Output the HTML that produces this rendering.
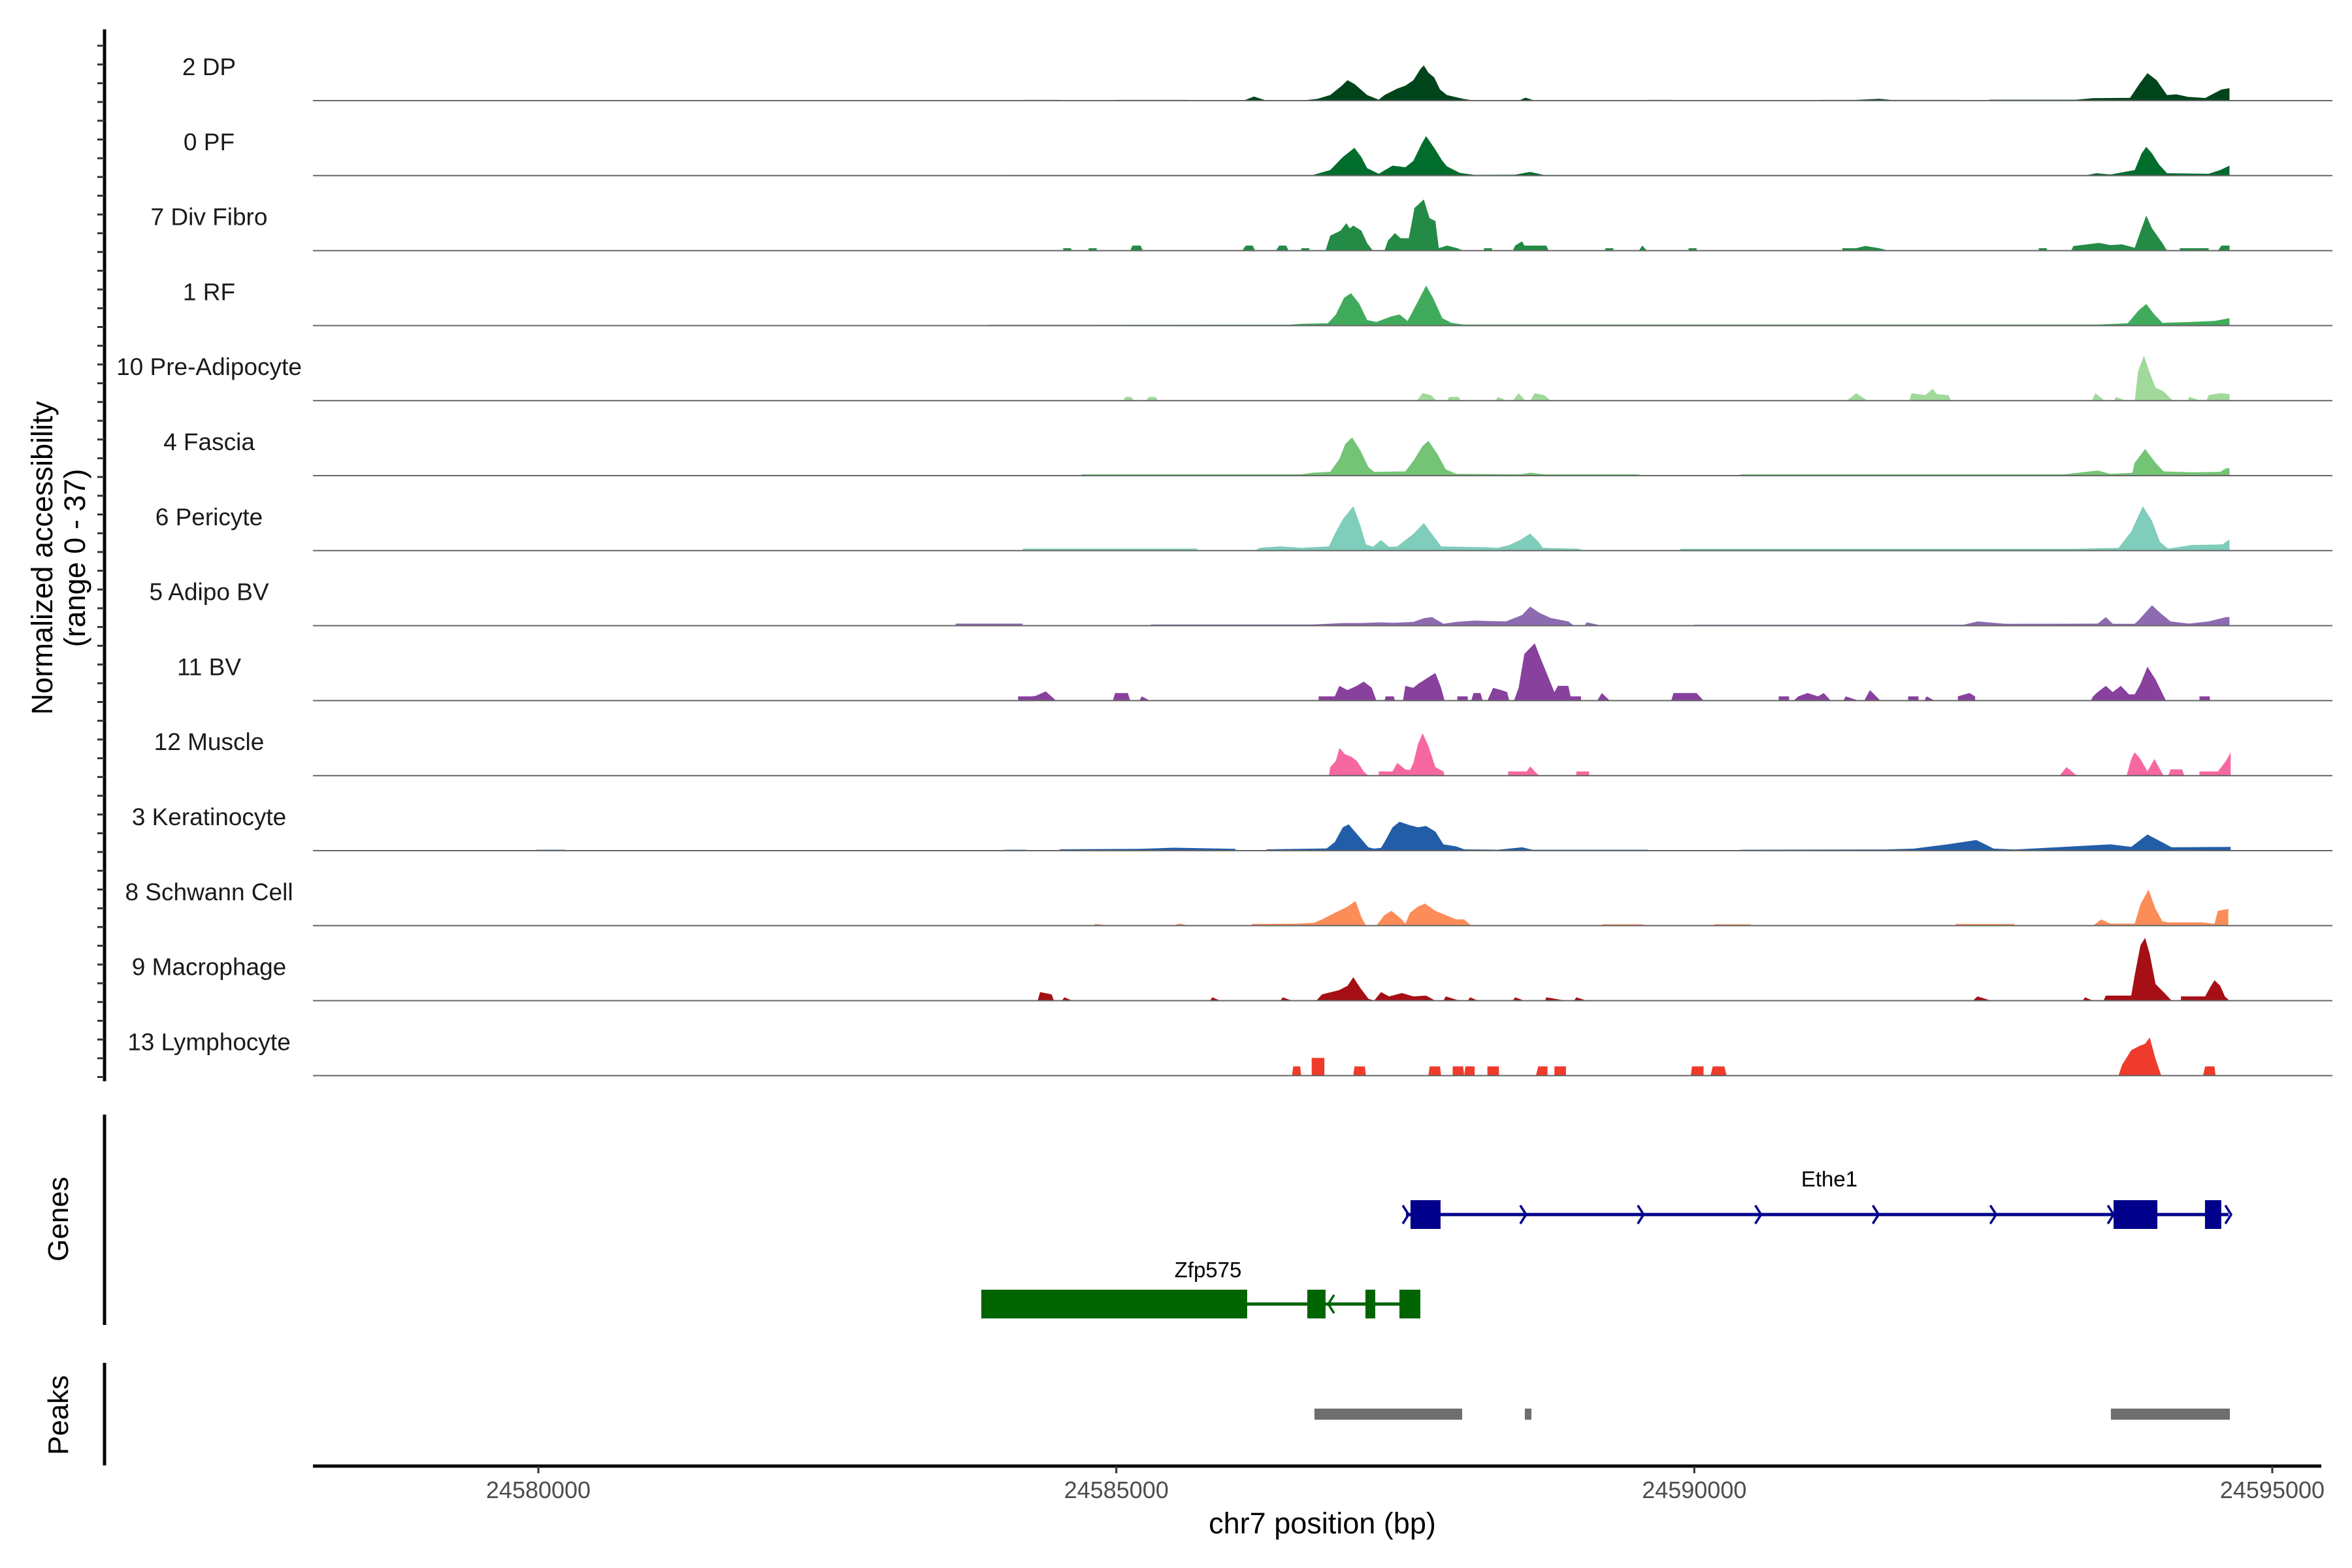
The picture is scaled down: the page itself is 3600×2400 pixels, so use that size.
<!DOCTYPE html>
<html><head><meta charset="utf-8">
<style>
html,body{margin:0;padding:0;background:#fff;}
svg{display:block;font-family:"Liberation Sans",Arial,sans-serif;}
</style></head>
<body>
<svg id="chart" width="3600" height="2400" viewBox="0 0 3600 2400" xmlns="http://www.w3.org/2000/svg">
<rect x="0" y="0" width="3600" height="2400" fill="#fff"/>
<g id="tracks"></g>
<g id="leftaxis"></g>
<g id="genes"></g>
<g id="peaks"></g>
<g id="xaxis"></g>
<text x="0" y="0" transform="translate(80,854) rotate(-90)" text-anchor="middle" font-size="45" fill="#000">Normalized accessibility</text>
<text x="0" y="0" transform="translate(130,854) rotate(-90)" text-anchor="middle" font-size="45" fill="#000">(range 0 - 37)</text>
<text x="0" y="0" transform="translate(104,1866) rotate(-90)" text-anchor="middle" font-size="44" fill="#000">Genes</text>
<text x="0" y="0" transform="translate(104,2166) rotate(-90)" text-anchor="middle" font-size="44" fill="#000">Peaks</text>
<text x="2024" y="2347" text-anchor="middle" font-size="45" fill="#000">chr7 position (bp)</text>
</svg>
<script>
const trackNames = ["2 DP","0 PF","7 Div Fibro","1 RF","10 Pre-Adipocyte","4 Fascia","6 Pericyte","5 Adipo BV","11 BV","12 Muscle","3 Keratinocyte","8 Schwann Cell","9 Macrophage","13 Lymphocyte"];
const xTicks = [24580000, 24585000, 24590000, 24595000];
const yRangeMax = 37;
const sig_DP = [[24584.2,0],[24584.2,0.4],[24584.5,0.4],[24584.5,0],[24585.0,0],[24585.0,0.4],[24585.6,0.4],[24585.6,0],[24586.10,0],[24586.19,2.2],[24586.30,0],[24586.60,0],[24586.74,1],[24586.85,3],[24586.95,8],[24587.00,11],[24587.06,9],[24587.17,3],[24587.27,0.5],[24587.32,3],[24587.43,6.5],[24587.50,8],[24587.57,11],[24587.63,17],[24587.66,19],[24587.70,15],[24587.75,12.5],[24587.80,6],[24587.86,3],[24588.00,1],[24588.10,0],[24588.48,0],[24588.54,1.6],[24588.62,0],[24589.6,0],[24589.6,0.4],[24589.8,0.4],[24589.8,0],[24591.1,0],[24591.1,0.4],[24591.4,0.4],[24591.6,1],[24591.7,0.4],[24592.3,0.4],[24592.3,0],[24592.55,0],[24592.55,0.5],[24593.3,0.5],[24593.45,1.3],[24593.77,1.5],[24593.85,9],[24593.92,14.8],[24594.00,11],[24594.09,3],[24594.17,3.4],[24594.27,2],[24594.42,1.4],[24594.56,6],[24594.63,6.7],[24594.63,0]];
const sig_PF = [[24584.0,0],[24584.0,0.3],[24586.7,0.3],[24586.85,3],[24586.96,10],[24587.06,15],[24587.12,10],[24587.17,4],[24587.27,1],[24587.39,5.4],[24587.50,4.5],[24587.57,8],[24587.64,17],[24587.68,21.3],[24587.75,15],[24587.82,8],[24587.86,5],[24587.97,1.5],[24588.1,0.4],[24588.45,0.5],[24588.58,2],[24588.7,0.3],[24593.4,0.3],[24593.48,1.3],[24593.6,0.6],[24593.81,3],[24593.87,12],[24593.91,15.5],[24593.96,12],[24594.02,6],[24594.09,1.3],[24594.45,1],[24594.55,3],[24594.63,5.4],[24594.63,0]];
const sig_DivFibro = [[24584.54,0],[24584.54,1.3],[24584.61,1.3],[24584.61,0],[24584.76,0],[24584.76,1.3],[24584.83,1.3],[24584.83,0],[24585.12,0],[24585.14,2.7],[24585.21,2.7],[24585.23,0],[24586.09,0],[24586.12,2.7],[24586.18,2.7],[24586.20,0],[24586.38,0],[24586.41,2.7],[24586.47,2.7],[24586.49,0],[24586.60,0],[24586.60,1.3],[24586.67,1.3],[24586.67,0],[24586.81,0],[24586.85,8],[24586.94,10.8],[24586.99,14.8],[24587.02,12],[24587.05,13.5],[24587.12,10.8],[24587.17,4],[24587.22,0],[24587.32,0],[24587.35,5.4],[24587.41,9.4],[24587.46,6.7],[24587.53,6.7],[24587.58,23],[24587.66,27.6],[24587.71,17.5],[24587.76,16],[24587.79,1.3],[24587.86,2.7],[24587.95,1.3],[24588.00,0],[24588.18,0],[24588.18,1.3],[24588.25,1.3],[24588.25,0],[24588.43,0],[24588.45,2.7],[24588.51,5],[24588.53,2.7],[24588.72,2.7],[24588.74,0],[24589.23,0],[24589.23,1.3],[24589.30,1.3],[24589.30,0],[24589.52,0],[24589.55,2.7],[24589.59,0],[24589.95,0],[24589.95,1.3],[24590.02,1.3],[24590.02,0],[24591.28,0],[24591.28,1.3],[24591.40,1.3],[24591.48,2.5],[24591.60,1.3],[24591.68,0],[24592.98,0],[24592.98,1.3],[24593.05,1.3],[24593.05,0],[24593.26,0],[24593.28,2.5],[24593.40,3.4],[24593.50,4.2],[24593.60,3],[24593.70,3.4],[24593.81,1.5],[24593.87,12],[24593.91,18.9],[24593.96,12],[24594.05,4],[24594.09,0],[24594.20,0],[24594.20,1.3],[24594.45,1.3],[24594.45,0],[24594.53,0],[24594.56,2.7],[24594.63,2.7],[24594.63,0]];
const sig_RF = [[24583.9,0],[24583.9,0.4],[24586.50,0.5],[24586.60,1],[24586.83,1.3],[24586.90,6],[24586.97,15],[24587.03,17.5],[24587.10,12],[24587.17,3],[24587.25,2],[24587.38,5],[24587.45,6],[24587.52,2.5],[24587.60,12],[24587.68,21.6],[24587.74,15],[24587.82,4],[24587.90,1.5],[24588.0,0.6],[24593.5,0.6],[24593.75,1.3],[24593.84,8],[24593.91,11.7],[24593.98,6],[24594.05,1.5],[24594.30,2],[24594.50,2.5],[24594.63,4],[24594.63,0]];
const sig_PreAdipocyte = [[24585.06,0],[24585.08,2],[24585.13,2],[24585.15,0],[24585.26,0],[24585.28,2],[24585.34,2],[24585.36,0],[24587.60,0],[24587.65,4],[24587.72,3],[24587.77,0],[24587.86,0],[24587.88,2],[24587.96,2],[24587.98,0],[24588.28,0],[24588.30,2],[24588.38,0],[24588.43,0],[24588.48,4],[24588.54,0],[24588.58,0],[24588.62,4],[24588.70,3],[24588.76,0],[24591.32,0],[24591.40,4],[24591.50,0],[24591.86,0],[24591.88,4],[24592.00,3],[24592.06,6.3],[24592.10,3.5],[24592.20,3],[24592.22,0],[24593.44,0],[24593.47,4],[24593.55,0],[24593.63,0],[24593.65,2],[24593.73,0],[24593.81,0],[24593.84,16],[24593.89,24.3],[24593.94,15],[24593.99,7],[24594.06,5],[24594.14,0],[24594.27,0],[24594.28,2],[24594.38,0],[24594.43,0],[24594.45,3],[24594.55,4],[24594.63,3.5],[24594.63,0]];
const sig_Fascia = [[24584.7,0],[24584.7,0.7],[24586.6,0.7],[24586.7,1.6],[24586.85,2],[24586.93,9],[24586.98,17],[24587.04,20.6],[24587.11,13.7],[24587.18,4.6],[24587.23,2],[24587.50,2.3],[24587.57,8],[24587.65,16],[24587.70,18.8],[24587.78,11.4],[24587.85,3.4],[24587.94,1],[24588.5,0.7],[24588.58,1.6],[24588.7,0.7],[24589.5,0.7],[24589.6,0],[24590.4,0],[24590.4,0.7],[24593.2,0.7],[24593.49,2.7],[24593.6,1],[24593.79,1.5],[24593.81,6.9],[24593.90,14.4],[24593.99,6.9],[24594.06,2.3],[24594.30,1.8],[24594.55,2],[24594.60,4],[24594.63,4],[24594.63,0]];
const sig_Pericyte = [[24584.19,0],[24584.19,1.1],[24585.70,1.1],[24585.70,0],[24586.20,0],[24586.24,1.5],[24586.42,2.3],[24586.60,1.5],[24586.84,2.3],[24586.89,9],[24586.96,17],[24587.05,24],[24587.11,13.7],[24587.16,3.4],[24587.22,2],[24587.29,5.7],[24587.36,2],[24587.43,2.3],[24587.57,9],[24587.66,14.9],[24587.73,9],[24587.81,2.3],[24588.22,1.8],[24588.30,1.5],[24588.40,3],[24588.50,6],[24588.58,9.2],[24588.65,5],[24588.69,1.5],[24589.00,1],[24589.05,0],[24589.88,0],[24589.88,1],[24592.77,1],[24593.3,1],[24593.67,1.5],[24593.78,10.3],[24593.88,24],[24593.96,16],[24594.03,4.6],[24594.10,1.1],[24594.30,3],[24594.57,3.4],[24594.62,5.7],[24594.63,5.7],[24594.63,0]];
const sig_AdipoBV = [[24583.61,0],[24583.61,1.1],[24584.19,1.1],[24584.19,0],[24585.3,0],[24585.3,0.6],[24586.7,0.6],[24586.96,1.4],[24587.11,1.4],[24587.29,1.8],[24587.39,1.5],[24587.57,2],[24587.66,4],[24587.73,4.6],[24587.83,1],[24587.94,2],[24588.10,2.7],[24588.22,2.5],[24588.37,2.3],[24588.51,5.7],[24588.58,10.3],[24588.66,6.9],[24588.76,4.1],[24588.91,2.3],[24588.96,0],[24589.05,0],[24589.07,1.8],[24589.20,0],[24590.0,0],[24590.0,0.5],[24592.33,0.5],[24592.45,2.3],[24592.69,1],[24593.49,1.1],[24593.56,4.6],[24593.62,1],[24593.81,1],[24593.85,3.4],[24593.96,11],[24594.03,6.9],[24594.12,2.3],[24594.28,1.1],[24594.45,2.3],[24594.60,4.6],[24594.63,4.6],[24594.63,0]];
const sig_BV = [[24584.15,0],[24584.15,2.3],[24584.26,2.3],[24584.30,2.5],[24584.39,5],[24584.48,0],[24584.97,0],[24584.99,4.1],[24585.10,4.1],[24585.12,0],[24585.20,0],[24585.22,2.3],[24585.29,0],[24586.75,0],[24586.75,2.3],[24586.89,2.3],[24586.93,8],[24587.00,5.7],[24587.08,8],[24587.14,10.3],[24587.21,6.9],[24587.25,0],[24587.32,0],[24587.33,2.3],[24587.40,2.3],[24587.41,0],[24587.48,0],[24587.50,8],[24587.57,6.9],[24587.61,9],[24587.70,12.6],[24587.76,14.9],[24587.81,6.9],[24587.84,0],[24587.95,0],[24587.95,2.3],[24588.04,2.3],[24588.04,0],[24588.07,0],[24588.09,4.1],[24588.15,4.1],[24588.17,0],[24588.21,0],[24588.26,6.9],[24588.33,5.7],[24588.38,4.6],[24588.40,0],[24588.44,0],[24588.48,6.9],[24588.53,25.2],[24588.62,30.9],[24588.67,22.9],[24588.73,13.7],[24588.79,4.6],[24588.82,8],[24588.91,8],[24588.93,2.3],[24589.02,2.3],[24589.02,0],[24589.16,0],[24589.20,4.1],[24589.27,0],[24589.80,0],[24589.82,4.1],[24590.02,4.1],[24590.08,0],[24590.73,0],[24590.73,2.3],[24590.82,2.3],[24590.82,0],[24590.86,0],[24590.90,2.3],[24590.98,4.1],[24591.07,2.3],[24591.12,4.1],[24591.18,0],[24591.29,0],[24591.31,2.3],[24591.42,0],[24591.47,0],[24591.52,5.7],[24591.61,0],[24591.85,0],[24591.85,2.3],[24591.94,2.3],[24591.94,0],[24591.99,0],[24592.01,2.3],[24592.08,0],[24592.28,0],[24592.28,2.3],[24592.38,4.1],[24592.43,2.3],[24592.43,0],[24593.43,0],[24593.45,2.3],[24593.49,4.6],[24593.56,8],[24593.62,4.6],[24593.69,8],[24593.76,3.4],[24593.81,3.4],[24593.86,9],[24593.92,18.3],[24593.99,11.4],[24594.08,0],[24594.37,0],[24594.37,2.3],[24594.46,2.3],[24594.46,0]];
const sig_Muscle = [[24586.84,0],[24586.85,4.6],[24586.90,8],[24586.93,14.9],[24586.98,11.4],[24587.03,10.3],[24587.08,8],[24587.14,2.3],[24587.18,0],[24587.27,0],[24587.27,2.3],[24587.39,2.3],[24587.43,6.9],[24587.50,3.4],[24587.54,3],[24587.57,6.9],[24587.61,17],[24587.65,22.9],[24587.70,16],[24587.76,4.6],[24587.83,2.3],[24587.84,0],[24588.39,0],[24588.39,2.3],[24588.55,2.3],[24588.58,5],[24588.62,2.3],[24588.66,0],[24588.98,0],[24588.98,2.3],[24589.09,2.3],[24589.09,0],[24593.16,0],[24593.22,4.6],[24593.31,0],[24593.74,0],[24593.78,9],[24593.81,12.6],[24593.86,9],[24593.92,2.3],[24593.98,9],[24594.03,3.4],[24594.06,0],[24594.10,0],[24594.12,3.4],[24594.22,3.4],[24594.24,0],[24594.37,0],[24594.37,2.3],[24594.53,2.3],[24594.60,8],[24594.64,12.6],[24594.64,0]];
const sig_Keratinocyte = [[24579.98,0],[24579.98,0.5],[24580.23,0.5],[24580.23,0],[24584.03,0],[24584.03,0.5],[24584.22,0.5],[24584.22,0],[24584.51,0],[24584.51,0.7],[24585.2,1],[24585.5,1.6],[24586.03,1],[24586.03,0],[24586.3,0],[24586.3,0.7],[24586.82,1.2],[24586.89,4.6],[24586.96,12.6],[24587.01,14.2],[24587.11,6.9],[24587.18,1.8],[24587.23,1.1],[24587.29,1.5],[24587.32,4.6],[24587.39,12.6],[24587.45,15.6],[24587.54,13.7],[24587.61,12.6],[24587.68,13.3],[24587.76,10.3],[24587.83,3.4],[24587.94,2.3],[24588.01,0.7],[24588.3,0.5],[24588.51,1.8],[24588.6,0.5],[24589.6,0.5],[24589.6,0],[24590.4,0],[24590.4,0.5],[24591.65,0.6],[24591.90,1.1],[24592.19,3.4],[24592.44,5.7],[24592.59,1.1],[24592.77,0.6],[24593.60,3.4],[24593.78,2],[24593.92,8.7],[24594.13,1.8],[24594.64,2],[24594.64,0]];
const sig_Schwann = [[24584.80,0],[24584.82,0.9],[24584.94,0],[24585.48,0],[24585.55,1.1],[24585.63,0],[24586.17,0],[24586.17,0.9],[24586.57,1.1],[24586.71,1.5],[24586.78,3.4],[24586.89,6.9],[24587.00,10.3],[24587.07,13.3],[24587.12,4.6],[24587.16,0],[24587.25,0],[24587.32,5.7],[24587.38,8],[24587.47,3.4],[24587.50,1],[24587.54,6.9],[24587.61,10.3],[24587.67,11.9],[24587.76,8],[24587.85,5.7],[24587.94,3.4],[24588.01,3.4],[24588.07,0],[24589.20,0],[24589.20,0.7],[24589.56,0.7],[24589.56,0],[24590.17,0],[24590.17,0.7],[24590.49,0.7],[24590.49,0],[24592.26,0],[24592.26,0.9],[24592.77,0.9],[24592.77,0],[24593.45,0],[24593.52,3.4],[24593.60,1.1],[24593.81,1.1],[24593.86,11.4],[24593.93,19.5],[24593.99,9],[24594.05,2.3],[24594.10,1.8],[24594.39,1.8],[24594.50,1],[24594.53,8],[24594.62,9],[24594.62,0]];
const sig_Macrophage = [[24584.32,0],[24584.34,4.6],[24584.44,3.4],[24584.46,0],[24584.53,0],[24584.55,1.8],[24584.62,0],[24585.81,0],[24585.83,1.8],[24585.90,0],[24586.42,0],[24586.44,1.8],[24586.52,0],[24586.73,0],[24586.78,3.4],[24586.93,5.7],[24587.00,8],[24587.05,12.6],[24587.11,6.9],[24587.18,1.1],[24587.23,0],[24587.29,4.6],[24587.36,2.3],[24587.47,4.1],[24587.57,2.3],[24587.68,2.7],[24587.76,0],[24587.83,0],[24587.85,2.3],[24587.97,0],[24588.04,0],[24588.06,1.8],[24588.13,0],[24588.43,0],[24588.45,1.8],[24588.53,0],[24588.71,0],[24588.72,1.8],[24588.89,0],[24588.96,0],[24588.98,1.8],[24589.07,0],[24592.41,0],[24592.45,2.3],[24592.57,0],[24593.36,0],[24593.38,1.8],[24593.45,0],[24593.54,0],[24593.56,2.7],[24593.78,2.7],[24593.81,13.7],[24593.86,29.8],[24593.90,33.9],[24593.94,25.2],[24593.99,9],[24594.06,4.6],[24594.13,0],[24594.21,0],[24594.21,2.3],[24594.42,2.3],[24594.46,6.9],[24594.50,11],[24594.55,8],[24594.59,2.3],[24594.63,0]];
const sig_Lymphocyte = [[24586.52,0],[24586.53,5],[24586.59,5],[24586.60,0],[24586.69,0],[24586.69,9.6],[24586.80,9.6],[24586.80,0],[24587.05,0],[24587.06,5],[24587.15,5],[24587.16,0],[24587.70,0],[24587.71,5],[24587.80,5],[24587.81,0],[24587.91,0],[24587.91,5],[24588.00,5],[24588.01,0],[24588.02,5],[24588.10,5],[24588.10,0],[24588.21,0],[24588.21,5],[24588.31,5],[24588.31,0],[24588.63,0],[24588.65,5],[24588.73,5],[24588.73,0],[24588.79,0],[24588.79,5],[24588.89,5],[24588.89,0],[24589.97,0],[24589.98,5],[24590.08,5],[24590.08,0],[24590.14,0],[24590.16,5],[24590.26,5],[24590.28,0],[24593.67,0],[24593.70,5.7],[24593.78,13.7],[24593.85,16],[24593.90,17.2],[24593.94,20.6],[24593.99,9],[24594.04,0],[24594.40,0],[24594.42,5],[24594.50,5],[24594.51,0]];
const signals = [sig_DP, sig_PF, sig_DivFibro, sig_RF, sig_PreAdipocyte, sig_Fascia, sig_Pericyte, sig_AdipoBV, sig_BV, sig_Muscle, sig_Keratinocyte, sig_Schwann, sig_Macrophage, sig_Lymphocyte];
const ethe1Exons = [[24587.545,24587.805],[24593.627,24594.006],[24594.418,24594.559]];
const ethe1Span = [24587.506, 24594.622];
const zfpExons = [[24583.832,24586.132],[24586.652,24586.810],[24587.155,24587.240],[24587.449,24587.630]];
const zfpSpan = [24583.832, 24587.630];
const peakRegions = [[24586.714,24587.992],[24588.534,24588.591],[24593.604,24594.633]];

const trackColors = ["#00441b","#006d2c","#238b45","#41ab5d","#a1d99b","#74c476","#7fcdbb","#8c6bb1","#88419d","#f768a1","#225ea8","#fc8d59","#a50f15","#ef3b2c"];
const NS = "http://www.w3.org/2000/svg";
const X0 = 479, X1 = 3553;
function xScale(kb){ return 824 + (kb - 24580) * 176.93; }
function yScale(v, base){ return base - v * (105 / yRangeMax); }
function baseY(i){ return 154 + i * 114.8; }
function mk(tag, attrs, parent){ const e = document.createElementNS(NS, tag); for (const k in attrs) e.setAttribute(k, attrs[k]); parent.appendChild(e); return e; }

const gTracks = document.getElementById('tracks');
trackNames.forEach((name, i) => {
  const b = baseY(i);
  const sig = signals[i];
  let d = "M" + xScale(sig[0][0]).toFixed(1) + "," + b;
  sig.forEach(p => { d += " L" + xScale(p[0]).toFixed(1) + "," + yScale(p[1], b).toFixed(1); });
  d += " L" + xScale(sig[sig.length-1][0]).toFixed(1) + "," + b + " Z";
  const area = mk('path', {d: d, fill: trackColors[i], stroke: 'none'}, gTracks);
  
  
  const line = mk('line', {x1: X0, y1: b, x2: 3570, y2: b, stroke: '#666', 'stroke-width': 2}, gTracks);
  
  
  const lab = mk('text', {x: 320, y: b - 39, 'text-anchor': 'middle', 'font-size': 37, fill: '#1a1a1a'}, gTracks);
  lab.textContent = name;
  
  
});

const gL = document.getElementById('leftaxis');
const ax = mk('line', {x1: 160, y1: 45, x2: 160, y2: 1655, stroke: '#000', 'stroke-width': 5}, gL);


for (let k = 0; k < 56; k++) {
  const y = 70 + k * 28.7;
  const t = mk('line', {x1: 149, y1: y, x2: 160, y2: y, stroke: '#333', 'stroke-width': 3}, gL);
  
  
}

const gG = document.getElementById('genes');
const ga = mk('line', {x1: 160, y1: 1706, x2: 160, y2: 2028, stroke: '#000', 'stroke-width': 5}, gG);


const eY = 1859, zY = 1996;
const eLine = mk('line', {x1: xScale(ethe1Span[0]), y1: eY, x2: xScale(ethe1Span[1]), y2: eY, stroke: '#00008b', 'stroke-width': 5}, gG);


ethe1Exons.forEach(e => {
  const r = mk('rect', {x: xScale(e[0]), y: eY - 22, width: xScale(e[1]) - xScale(e[0]), height: 44, fill: '#00008b'}, gG);
  
  
});
const ex0 = xScale(ethe1Span[0]), ex1 = xScale(ethe1Span[1]);
for (let k = 0; k <= 7; k++) {
  const ax2 = ex0 + (ex1 - ex0) * k / 7;
  const ch = mk('polyline', {points: (ax2-5)+","+(eY-14)+" "+(ax2+4)+","+eY+" "+(ax2-5)+","+(eY+14), fill: 'none', stroke: '#00008b', 'stroke-width': 3.5}, gG);
  
  
}
const eLab = mk('text', {x: 2800, y: 1816, 'text-anchor': 'middle', 'font-size': 33, fill: '#000'}, gG);
eLab.textContent = 'Ethe1';



const zLine = mk('line', {x1: xScale(zfpSpan[0]), y1: zY, x2: xScale(zfpSpan[1]), y2: zY, stroke: '#006400', 'stroke-width': 5}, gG);


zfpExons.forEach(e => {
  const r = mk('rect', {x: xScale(e[0]), y: zY - 22, width: xScale(e[1]) - xScale(e[0]), height: 44, fill: '#006400'}, gG);
  
  
});
const zax = 2037;
const zch = mk('polyline', {points: (zax+5)+","+(zY-14)+" "+(zax-4)+","+zY+" "+(zax+5)+","+(zY+14), fill: 'none', stroke: '#006400', 'stroke-width': 3.5}, gG);


const zLab = mk('text', {x: 1849, y: 1955, 'text-anchor': 'middle', 'font-size': 33, fill: '#000'}, gG);
zLab.textContent = 'Zfp575';



const gP = document.getElementById('peaks');
const pa = mk('line', {x1: 160, y1: 2086, x2: 160, y2: 2243, stroke: '#000', 'stroke-width': 5}, gP);


peakRegions.forEach(p => {
  const r = mk('rect', {x: xScale(p[0]), y: 2156, width: Math.max(6, xScale(p[1]) - xScale(p[0])), height: 17, fill: '#6e6e6e'}, gP);
  
  
});

const gX = document.getElementById('xaxis');
const xl = mk('line', {x1: X0, y1: 2244, x2: X1, y2: 2244, stroke: '#000', 'stroke-width': 5}, gX);


xTicks.forEach(t => {
  const x = xScale(t / 1000);
  const tk = mk('line', {x1: x, y1: 2244, x2: x, y2: 2255, stroke: '#333', 'stroke-width': 3}, gX);
  
  
  const tl = mk('text', {x: x, y: 2293, 'text-anchor': 'middle', 'font-size': 36, fill: '#4d4d4d'}, gX);
  tl.textContent = String(t);
  
  
});
</script>
</body></html>
